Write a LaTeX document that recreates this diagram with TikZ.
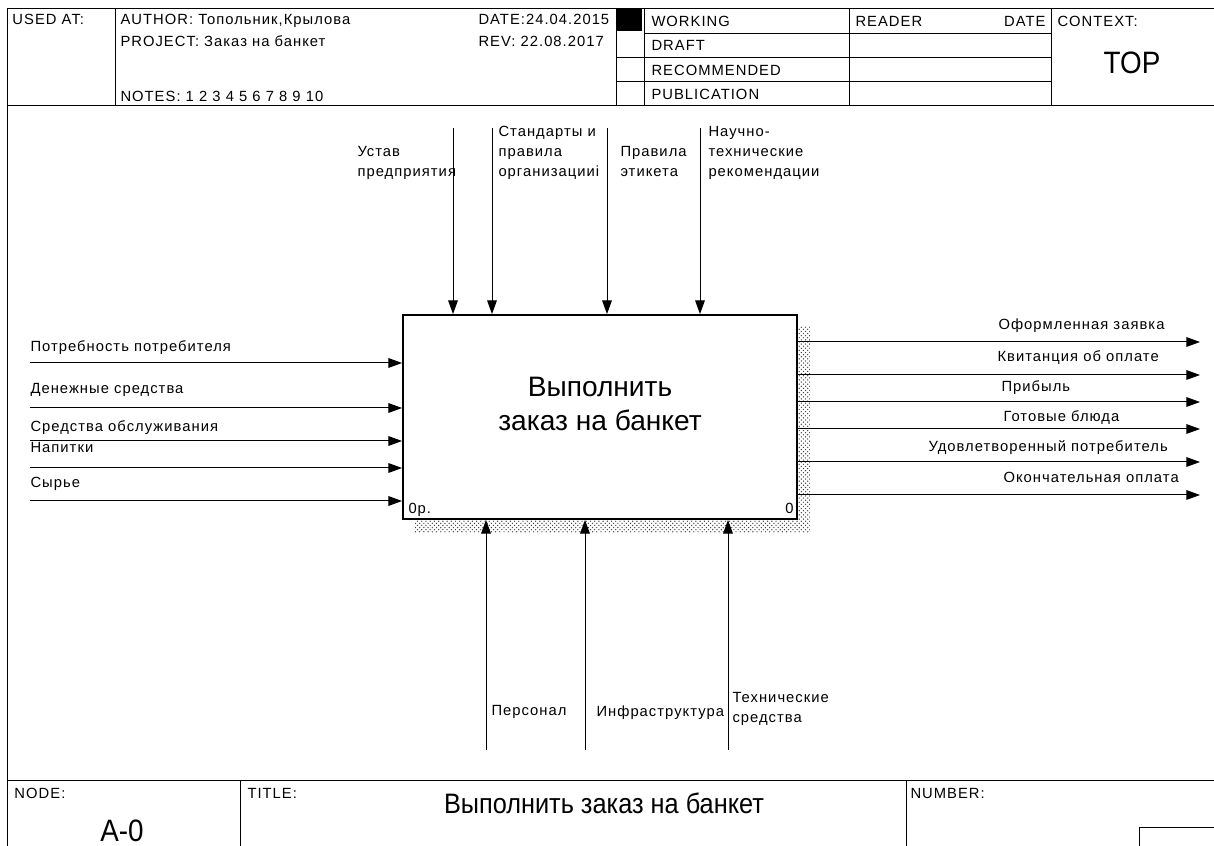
\documentclass[tikz,border=0pt]{standalone}
\usepackage{fontspec}
\setmainfont{Liberation Sans}
\newfontfamily\idefsmall[LetterSpace=7]{Liberation Sans}
\newfontfamily\idefnarrow[FakeStretch=0.9]{Liberation Sans}
\usetikzlibrary{arrows.meta,patterns}
\tikzset{
  lbl/.style={inner sep=0pt,anchor=base west},
  lblr/.style={inner sep=0pt,anchor=base east},
  mlbl/.style={inner sep=0pt,anchor=north west,align=left},
  flow/.style={-{Triangle[length=3.4mm,width=2.4mm]}},
  shadowband/.style={draw=none,pattern=crosshatch dots,pattern color=black!75}
}
\begin{document}
\begin{tikzpicture}[x=.25mm,y=-.25mm,line width=.25mm,font=\idefsmall\fontsize{10.5}{14.2}\selectfont]
\useasboundingbox (0,0) rectangle (1214,846);
\clip (0,0) rectangle (1214,846);
% frame and header
\draw (7,850) -- (7,9) -- (1220,9);
\draw (7,106) -- (1220,106);
\draw (115,9) -- (115,106);
\draw (616,9) -- (616,106) (644,9) -- (644,106) (849,9) -- (849,106) (1051,9) -- (1051,106);
\draw (644,34) -- (1051,34) (616,58) -- (1051,58) (616,82) -- (1051,82);
\node[lbl] (usedat) at (12,25) {USED AT:};
\node[lbl] (author) at (120,25) {AUTHOR: Топольник,Крылова};
\node[lbl] (project) at (120,47) {PROJECT: Заказ на банкет};
\node[lbl] (notes) at (120,102) {NOTES: 1 2 3 4 5 6 7 8 9 10};
\node[lbl] (date) at (478,25) {DATE:24.04.2015};
\node[lbl] (rev) at (478,47) {REV:  22.08.2017};
\fill (616,9) rectangle (642,31);
\node[lbl] (working) at (651,27) {WORKING};
\node[lbl] (draft) at (651,51) {DRAFT};
\node[lbl] (recom) at (651,76) {RECOMMENDED};
\node[lbl] (public) at (651,100) {PUBLICATION};
\node[lbl] (reader) at (855,27) {READER};
\node[lblr] (rdate) at (1046,27) {DATE};
\node[lbl] (context) at (1057,27) {CONTEXT:};
\node[font=\idefnarrow\fontsize{22}{24}\selectfont] (top) at (1132,63) {TOP};
% function box
\path[shadowband] (797,326) rectangle (810,533) (415,520) rectangle (810,533);
\node[draw,line width=.45mm,fill=white,minimum width=98.5mm,minimum height=51mm,inner sep=0pt] (func) at (600,417) {};
\node[align=center,font=\fontsize{20}{24}\selectfont] (functxt) at (600,404) {Выполнить\\заказ на банкет};
\node[lbl] (fcost) at (408,514) {0р.};
\node[lblr] (fnum) at (794,514) {0};
% inputs
\foreach \y/\ly/\t [count=\i] in {363/352/Потребность потребителя, 408/394/Денежные средства, 441/432/Средства обслуживания, 468/453/Напитки, 501/488/Сырье}{
  \coordinate (in\i) at (30,\y);
  \draw[flow] (in\i) -- (in\i -| func.west);
  \node[lbl] (inl\i) at (30,\ly) {\t};
}
% outputs
\foreach \y/\ly/\lx/\t [count=\i] in {342/330/998/Оформленная заявка, 375/362/997/Квитанция об оплате, 402/392/1001/Прибыль, 429/422/1003/Готовые блюда, 462/452/928/Удовлетворенный потребитель, 495/483/1003/Окончательная оплата}{
  \coordinate (out\i) at (1200,\y);
  \draw[flow] (out\i -| func.east) -- (out\i);
  \node[lbl] (outl\i) at (\lx,\ly) {\t};
}
% controls
\foreach \x/\lx/\ly/\t [count=\i] in {453/357/146/{Устав\\предприятия}, 492/498/126/{Стандарты и\\правила\\организацииi}, 607/620/146/{Правила\\этикета}, 700/708/126/{Научно-\\технические\\рекомендации}}{
  \coordinate (ctl\i) at (\x,128);
  \draw[flow] (ctl\i) -- (ctl\i |- func.north);
  \node[mlbl] (ctll\i) at (\lx,\ly) {\t};
}
% mechanisms
\foreach \x/\lx/\ly/\t [count=\i] in {486/491/705/Персонал, 585/596/705/Инфраструктура, 728/732/692/{Технические\\средства}}{
  \coordinate (mec\i) at (\x,750);
  \draw[flow] (mec\i) -- (mec\i |- func.south);
  \node[mlbl] (mecl\i) at (\lx,\ly) {\t};
}
% title block
\draw (7,781) -- (1220,781) (240,781) -- (240,850) (906,781) -- (906,850);
\draw (1220,827) -- (1139,827) -- (1139,850);
\node[lbl] (nodel) at (14,798) {NODE:};
\node[lbl] (titlel) at (247,798) {TITLE:};
\node[lbl] (numl) at (910,798) {NUMBER:};
\node[font=\idefnarrow\fontsize{20}{24}\selectfont] (title) at (604,803) {Выполнить заказ на банкет};
\node[font=\idefnarrow\fontsize{22}{24}\selectfont,anchor=base] (nodeid) at (122,841) {A-0};
\end{tikzpicture}
\end{document}
